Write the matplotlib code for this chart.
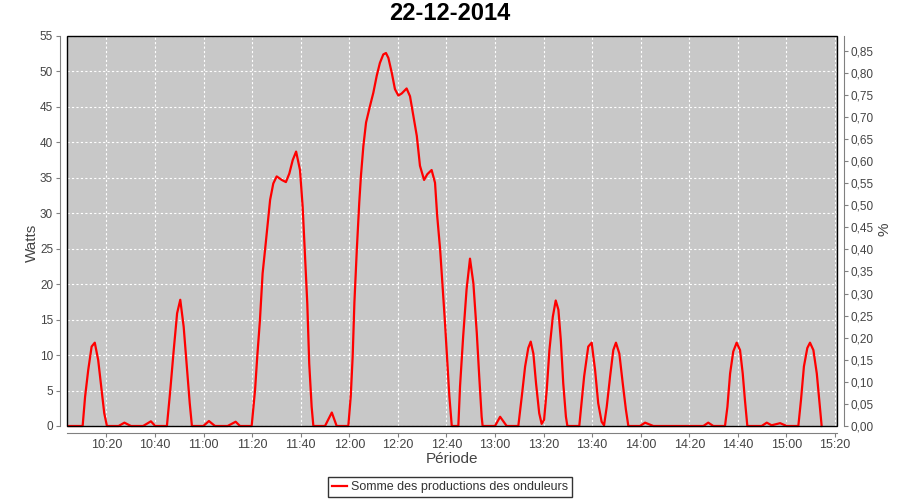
#!/usr/bin/python
import numpy as np
import matplotlib
matplotlib.use('Agg')
import matplotlib.pyplot as plt
from matplotlib.ticker import FuncFormatter, MultipleLocator
from matplotlib.patches import Rectangle

title = "22-12-2014"
series_name = "Somme des productions des onduleurs"

# minutes after 10:00
minutes = [4.2, 10.2, 11.2, 12.5, 13.9, 15.2, 16.6, 18.0, 19.1, 20.2,
           25.0, 27.4, 30.1, 35.1, 38.3, 40.1,
           44.9, 46.3, 47.7, 49.1, 50.4, 51.8, 53.2, 54.3, 55.2,
           59.9, 62.2, 64.7, 69.9, 73.2, 75.0,
           79.8, 81.2, 82.1, 83.2, 84.3, 85.3, 86.4, 87.4, 88.7, 90.1,
           92.2, 93.9, 95.3, 96.7, 98.1, 99.7, 100.8, 101.8, 102.7, 103.5,
           104.5, 105.2,
           110.0, 112.8, 114.8,
           119.6, 120.6, 121.4, 122.1, 123.1, 124.1, 124.8, 125.8, 126.9,
           128.5, 129.9, 131.3, 132.6, 134.0, 135.1, 136.1, 137.5, 138.8,
           140.2, 141.6, 143.6, 145.0, 146.4, 147.8, 149.1, 150.8, 152.1,
           153.9, 155.3, 156.2, 157.4, 158.3, 159.4, 160.4, 161.2, 162.2,
           164.9, 165.6, 166.9, 168.3, 169.7, 171.1, 172.5, 173.5, 174.5,
           174.9,
           180.0, 182.1, 184.8,
           189.6, 191.0, 192.4, 193.7, 194.7, 195.8, 196.9, 198.2, 199.2,
           200.2, 201.3, 202.4, 203.8, 205.0, 206.1, 207.1, 208.1, 209.2,
           209.8,
           214.7, 216.7, 218.4, 219.8, 221.2, 222.5, 223.9, 224.9, 226.0,
           227.4, 228.7, 229.8, 231.2, 232.6, 233.9, 234.9,
           239.7, 241.8, 245.2, 265.8, 267.8, 269.9,
           274.7, 275.7, 276.8, 278.1, 279.5, 280.9, 282.0, 282.9, 283.9,
           289.8, 291.9, 293.9, 297.4, 300.1,
           304.9, 306.0, 307.2, 308.6, 309.7, 311.1, 312.5, 313.5, 314.5]

watts = [0, 0, 4.1, 7.9, 11.2, 11.75, 9.3, 5.1, 1.8, 0,
         0, 0.47, 0, 0, 0.66, 0,
         0, 5.1, 10.7, 15.9, 17.8, 14.0, 7.9, 3.2, 0,
         0, 0.7, 0, 0, 0.6, 0,
         0, 5.1, 9.8, 14.9, 21.5, 24.8, 28.6, 31.9, 34.2, 35.2,
         34.7, 34.4, 35.6, 37.5, 38.7, 36.1, 30.9, 23.9, 17.3, 8.8,
         2.7, 0,
         0, 1.9, 0,
         0, 4.2, 9.9, 17.4, 24.9, 31.5, 35.3, 39.5, 42.8,
         45.1, 47.0, 49.4, 51.2, 52.4, 52.6, 51.9, 49.8, 47.5,
         46.6, 46.9, 47.6, 46.5, 43.7, 40.9, 36.7, 34.7, 35.5,
         36.1, 34.3, 29.6, 24.9, 20.2, 14.6, 8.9, 4.2, 0,
         0, 5.6, 12.7, 19.3, 23.6, 20.1, 13.1, 7.0, 1.3,
         0,
         0, 1.3, 0,
         0, 4.1, 8.4, 11.0, 11.9, 10.2, 6.0, 1.8, 0.3,
         0.85, 5.1, 10.7, 15.4, 17.7, 16.4, 12.1, 6.0, 1.3,
         0,
         0, 7.0, 11.2, 11.75, 7.9, 3.2, 0.6, 0.1, 2.7,
         7.0, 10.7, 11.75, 10.2, 6.0, 2.3, 0,
         0, 0.47, 0, 0, 0.47, 0,
         0, 2.7, 7.4, 10.5, 11.75, 10.7, 7.4, 3.7, 0,
         0, 0.47, 0.1, 0.4, 0,
         0, 3.7, 8.4, 11.0, 11.75, 10.7, 7.4, 3.7, 0]

plt.rcParams['font.family'] = ['Liberation Sans', 'DejaVu Sans']

fig = plt.figure(figsize=(9, 5), dpi=100)
ax = fig.add_axes([67/900, 74/500, 770/900, 390/500])
ax.set_facecolor('#c8c8c8')

ax.plot(minutes, watts, color='#ff0000', linewidth=1.6, clip_on=False, zorder=5)

ax.set_xlim(3.76, 320.82)
ax.set_ylim(0, 55)
ax.xaxis.set_major_locator(MultipleLocator(20))
ax.xaxis.set_major_formatter(FuncFormatter(lambda m, p: "%d:%02d" % (10 + int(round(m)) // 60, int(round(m)) % 60)))
ax.yaxis.set_major_locator(MultipleLocator(5))
ax.grid(True, color='white', linestyle=(0, (2, 2)), linewidth=0.8)

ax2 = ax.twinx()
ax2.set_ylim(0, 0.8833)
ax2.yaxis.set_major_locator(MultipleLocator(0.05))
ax2.yaxis.set_major_formatter(FuncFormatter(lambda v, p: ("%.2f" % v).replace('.', ',')))

for a in (ax, ax2):
    for side in ('left', 'bottom', 'right', 'top'):
        a.spines[side].set_visible(False)
    a.tick_params(colors='#808080', labelcolor='#444444', labelsize=9, length=3, width=0.8)
for side, a in (('left', ax), ('bottom', ax), ('right', ax2)):
    a.spines[side].set_visible(True)
    a.spines[side].set_position(('outward', 5))
    a.spines[side].set_color('#808080')
ax.tick_params(axis='x', pad=1.5)
ax.tick_params(axis='y', labelsize=8.5, pad=2)
ax2.tick_params(axis='y', labelsize=8.5, pad=2)

# plot outline
ax.add_patch(Rectangle((0, 0), 1, 1, transform=ax.transAxes, fill=False,
                       edgecolor='black', linewidth=1.0, clip_on=False, zorder=6))

ax.set_ylabel('Watts', fontsize=11, color='#444444')
ax.yaxis.set_label_coords(-0.037, 0.47)
ax2.set_ylabel('%', fontsize=11, color='#444444')
ax2.yaxis.set_label_coords(1.052, 0.505)
ax.set_xlabel('Période', fontsize=11, color='#444444')
ax.xaxis.set_label_coords(0.5, -0.067)

fig.text(0.5, 1 - 14/500, title, ha='center', va='center', fontsize=17, fontweight='bold')

handle, = ax.plot([], [], color='#ff0000', linewidth=1.6, label=series_name)
leg = fig.legend(handles=[handle], loc='center', bbox_to_anchor=(0.5, 1 - 487/500),
                 fontsize=9, frameon=True, fancybox=False, handlelength=1.2,
                 handletextpad=0.3, borderpad=0.3, borderaxespad=0)
leg.get_frame().set_edgecolor('black')
leg.get_frame().set_linewidth(1.0)
for t in leg.get_texts():
    t.set_color('#333333')

plt.savefig('out.png', dpi=100)
plt.clf()
